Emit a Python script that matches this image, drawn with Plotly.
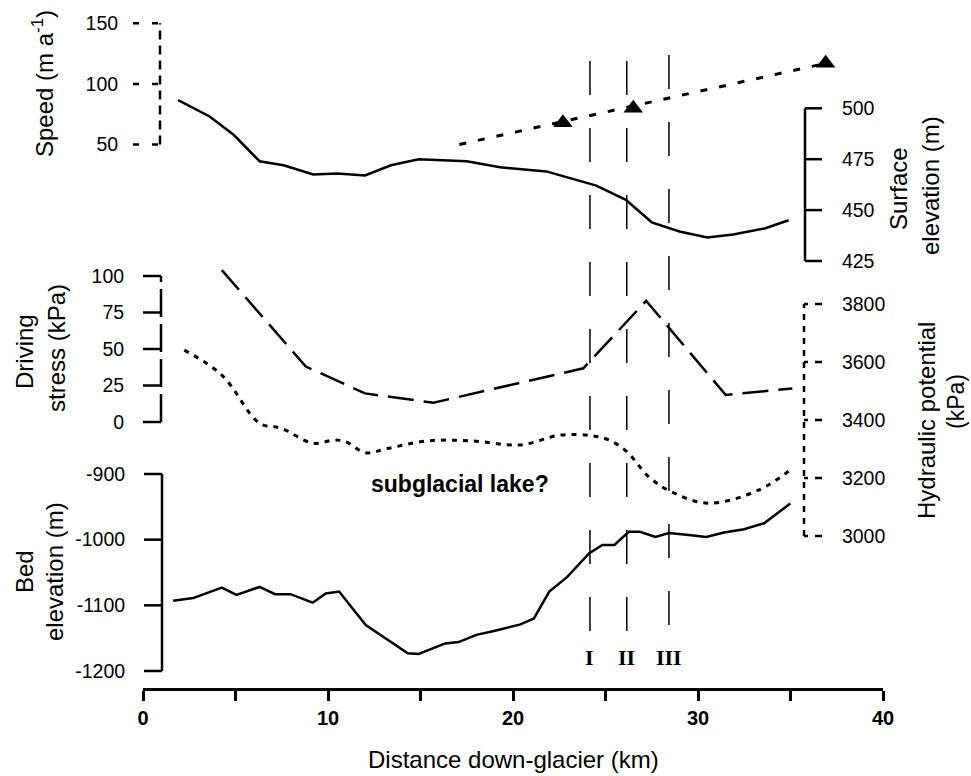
import plotly.graph_objects as go

# ---------------- data ----------------
SPEED_KM = [22.7, 26.5, 36.9]
SPEED = [68, 80, 117]
SPEED_FIT_KM = [17.1, 36.9]
SPEED_FIT = [50, 117]

SURF_KM = [1.9, 3.6, 4.9, 6.3, 7.6, 9.2, 10.5, 12.0, 13.4, 14.9, 17.5, 19.3,
           21.8, 24.5, 26.1, 27.5, 29.0, 30.5, 31.9, 33.6, 34.9]
SURF = [504, 496, 487, 474, 472, 467.5, 468, 467, 472, 475, 474, 471,
        469, 462, 455, 444, 439.5, 436.5, 438, 441, 445]

DS_KM = [4.26, 8.8, 12.0, 15.7, 23.8, 27.2, 31.5, 35.1]
DS = [104, 38, 19.6, 13.2, 36.8, 83, 18.5, 23]

HP_KM = [2.23, 4.26, 6.3, 7.5, 9.17, 10.36, 10.96, 12.04, 13.23, 15.38, 17.78,
         20.4, 22.56, 24.23, 25.19, 26.15, 27.34, 28.54, 30.57, 33.3, 35.1]
HP = [3641, 3555, 3389, 3371, 3320, 3331, 3325, 3287, 3302, 3328, 3328,
      3314, 3348, 3346, 3331, 3291, 3204, 3153, 3113, 3159, 3233]

BED_KM = [1.63, 2.71, 4.26, 5.05, 6.3, 7.14, 7.97, 9.17, 9.88, 10.6, 12.04,
          13.23, 14.31, 14.9, 16.34, 17.06, 18.02, 18.97, 20.4, 21.13, 21.96,
          22.92, 24.11, 24.83, 25.48, 26.26, 26.86, 27.7, 28.42, 29.5, 30.45,
          31.4, 32.49, 33.57, 34.28, 34.99]
BED = [-1093, -1089, -1073, -1084, -1072, -1083, -1083, -1096, -1082, -1079,
       -1130, -1153, -1173, -1174, -1158, -1156, -1145, -1139, -1129, -1120,
       -1079, -1057, -1021, -1008, -1008, -988, -988, -996, -990, -993, -996,
       -989, -984, -975, -960, -945]

SECTION_KM = [24.16, 26.15, 28.43]
SECTION_LABELS = ["I", "II", "III"]

X_TICKS = [0, 10, 20, 30, 40]
X_MINOR_TICKS = [5, 15, 25, 35]
SPEED_TICKS = [50, 100, 150]
SURF_TICKS = [425, 450, 475, 500]
DS_TICKS = [0, 25, 50, 75, 100]
HP_TICKS = [3000, 3200, 3400, 3600, 3800]
BED_TICKS = [-1200, -1100, -1000, -900]
BED_TICK_TEXT = ["-1200", "-1100", "-1000", "-900"]

# ---------------- layout helpers ----------------
W, H = 971, 776
L, R, T, B = 143, 883, 20, 688


def fx(px):
    return (px - L) / (R - L)


def fy(py):
    return (B - py) / (B - T)


def yrange(v1, p1, v2, p2):
    k = (v2 - v1) / (p2 - p1)
    return [v1 + (B - p1) * k, v1 + (T - p1) * k]


SANS = "Liberation Sans, Arial, sans-serif"
SERIF = "Liberation Serif, Times New Roman, serif"
BLACK = "#000000"
CLEAR = "rgba(0,0,0,0)"
TICKFONT = dict(family=SANS, size=19.5, color=BLACK)

fig = go.Figure()

# speed
fig.add_trace(go.Scatter(x=SPEED_FIT_KM, y=SPEED_FIT, mode="lines", yaxis="y2",
                         line=dict(color=BLACK, width=3, dash="7px,12px")))
fig.add_trace(go.Scatter(x=SPEED_KM, y=SPEED, mode="markers", yaxis="y2",
                         marker=dict(symbol="triangle-up", size=17, color=BLACK)))
# surface elevation
fig.add_trace(go.Scatter(x=SURF_KM, y=SURF, mode="lines", yaxis="y3",
                         line=dict(color=BLACK, width=2.5)))
# driving stress
fig.add_trace(go.Scatter(x=DS_KM, y=DS, mode="lines", yaxis="y4",
                         line=dict(color=BLACK, width=2.5, dash="26px,10px")))
# hydraulic potential
fig.add_trace(go.Scatter(x=HP_KM, y=HP, mode="lines", yaxis="y5",
                         line=dict(color=BLACK, width=3, dash="5px,6px", shape="spline")))
# bed
fig.add_trace(go.Scatter(x=BED_KM, y=BED, mode="lines", yaxis="y6",
                         line=dict(color=BLACK, width=2.5)))


def yax(rng, px, side, ticks, ticktext=None, gap=33):
    d = dict(overlaying="y", anchor="free", position=fx(px), side=side,
             range=rng, domain=[0, 1], showgrid=False, zeroline=False,
             showline=False, automargin=False, ticks="outside",
             ticklen=gap, tickcolor=CLEAR, tickwidth=1, tickfont=TICKFONT,
             tickvals=ticks)
    if ticktext is not None:
        d["ticktext"] = ticktext
    return d


fig.update_layout(
    width=W, height=H,
    margin=dict(l=L, r=W - R, t=T, b=H - B, pad=0, autoexpand=False),
    paper_bgcolor="white", plot_bgcolor=CLEAR,
    showlegend=False,
    xaxis=dict(range=[0, 40], domain=[0, 1], anchor="y", showgrid=False,
               zeroline=False, showline=True, linecolor=BLACK, linewidth=2.5,
               ticks="outside", ticklen=10, tickwidth=2.5, tickcolor=BLACK,
               tickvals=X_TICKS, automargin=False,
               minor=dict(tickvals=X_MINOR_TICKS, ticks="outside", ticklen=10,
                          tickwidth=2.5, tickcolor=BLACK, showgrid=False),
               tickfont=dict(family=SANS, size=20, color=BLACK, weight="bold")),
    yaxis=dict(range=[0, 1], domain=[0, 1], visible=False, fixedrange=True,
               automargin=False),
    yaxis2=yax(yrange(150, 23.3, 50, 144.5), 160, "left", SPEED_TICKS, gap=38),
    yaxis3=yax(yrange(500, 108.3, 425, 261), 805, "right", SURF_TICKS, gap=32),
    yaxis4=yax(yrange(100, 276, 0, 422), 161, "left", DS_TICKS, gap=33),
    yaxis5=yax(yrange(3800, 304, 3000, 536), 804, "right", HP_TICKS, gap=33),
    yaxis6=yax(yrange(-900, 474, -1200, 671), 162, "left", BED_TICKS,
               BED_TICK_TEXT, gap=33),
)

shapes = []
# axis spines and tick marks drawn in each axis's own coordinates
axes_spec = [
    ("y2", 160, -27, SPEED_TICKS, dict(color=BLACK, width=2.5, dash="9px,6px"),
     dict(color=BLACK, width=2.5, dash="6px,13px")),
    ("y3", 805, 17, SURF_TICKS, dict(color=BLACK, width=2.5),
     dict(color=BLACK, width=2.5)),
    ("y4", 161, -18, DS_TICKS, dict(color=BLACK, width=2.5, dash="28px,7px"),
     dict(color=BLACK, width=2.5)),
    ("y5", 804, 18, HP_TICKS, dict(color=BLACK, width=2.5, dash="6px,6px"),
     dict(color=BLACK, width=2.5, dash="7px,7px")),
    ("y6", 162, -18, BED_TICKS, dict(color=BLACK, width=2.5),
     dict(color=BLACK, width=2.5)),
]
for yref, px, tl, ticks, sline, tline in axes_spec:
    shapes.append(dict(type="line", xref="paper", yref=yref, x0=fx(px), x1=fx(px),
                       y0=min(ticks), y1=max(ticks), line=sline, layer="above"))
    for v in ticks:
        shapes.append(dict(type="line", xref="paper", yref=yref,
                           x0=fx(px + tl), x1=fx(px), y0=v, y1=v, line=tline,
                           layer="above"))
# section lines I, II, III
tops = [61, 61, 55]
bots = [631, 631, 625]
for k, t0, b0 in zip(SECTION_KM, tops, bots):
    shapes.append(dict(type="line", xref="x", yref="paper", x0=k, x1=k,
                       y0=fy(b0), y1=fy(t0),
                       line=dict(color=BLACK, width=1.5, dash="34px,33px")))
fig.update_layout(shapes=shapes)

ann = []


def title(text, px, py, size=24, angle=-90, font=SANS, bold=False):
    f = dict(family=font, size=size, color=BLACK)
    if bold:
        f["weight"] = "bold"
    ann.append(dict(text=text, x=fx(px), y=fy(py), xref="paper", yref="paper",
                    showarrow=False, textangle=angle, font=f,
                    xanchor="center", yanchor="middle"))


title("Speed (m a<sup>-1</sup>)", 43, 84)
title("Surface", 898, 188)
title("elevation (m)", 930, 185)
title("Driving", 24, 352)
title("stress (kPa)", 56, 348)
title("Hydraulic potential", 926, 421)
title("(kPa)", 956, 402, size=23)
title("Bed", 24, 572)
title("elevation (m)", 54, 572)
title("Distance down-glacier (km)", 513, 759, angle=0)
title("subglacial lake?", 460, 484, size=23, angle=0, bold=True)
for k, lab in zip(SECTION_KM, SECTION_LABELS):
    ann.append(dict(text=lab, x=k, y=fy(657), xref="x", yref="paper",
                    showarrow=False, xanchor="center", yanchor="middle",
                    font=dict(family=SERIF, size=22, color=BLACK, weight="bold")))
fig.update_layout(annotations=ann)

fig.write_html("out.html", config={"displayModeBar": False},
               post_script="document.body.style.margin='0px';")
